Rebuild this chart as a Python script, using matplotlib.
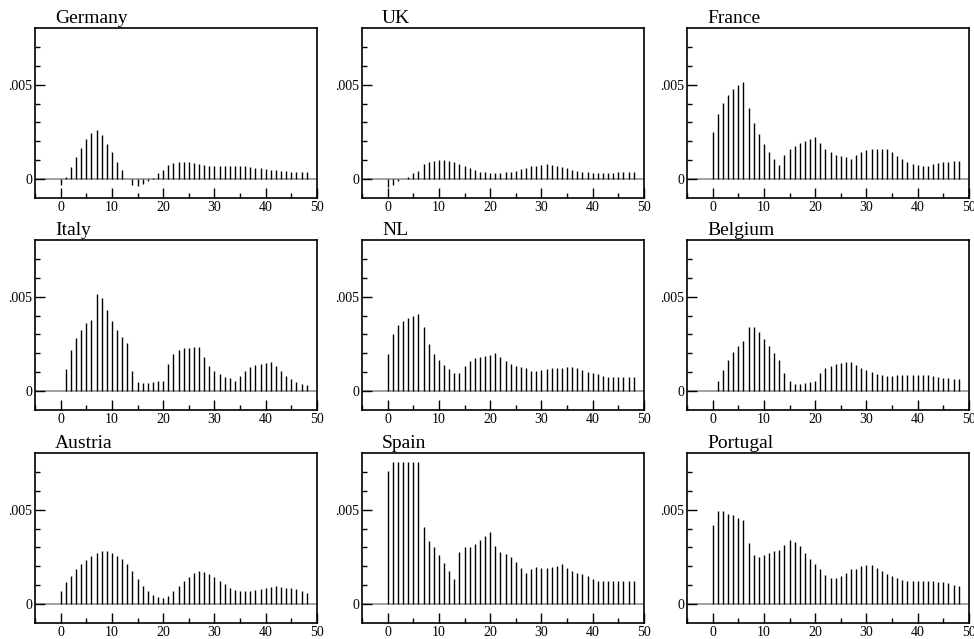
import numpy as np
import matplotlib
matplotlib.use("Agg")
import matplotlib.pyplot as plt
from matplotlib.ticker import MultipleLocator, FixedLocator, FuncFormatter

# impulse responses, lags 0..48
lags = np.arange(49)

germany = [-0.0003, 0.0001, 0.00065, 0.00118, 0.00165, 0.0021, 0.00243, 0.00259, 0.00232, 0.00188,
           0.00143, 0.00093, 0.00048, 0.0, -0.0003, -0.00035, -0.00025, -0.0001, 0.00005, 0.0003,
           0.0005, 0.00075, 0.00085, 0.0009, 0.0009, 0.0009, 0.00085, 0.0008, 0.00075, 0.0007,
           0.0007, 0.0007, 0.0007, 0.0007, 0.0007, 0.0007, 0.00068, 0.00065, 0.0006, 0.00057,
           0.00053, 0.0005, 0.00048, 0.00045, 0.00042, 0.0004, 0.0004, 0.0004, 0.0004]
uk = [-0.0004, -0.0003, -0.0001, 0.0, 0.0001, 0.0003, 0.00045, 0.0008, 0.00092, 0.00098,
      0.001, 0.001, 0.00098, 0.00092, 0.0008, 0.0007, 0.0006, 0.0005, 0.0004, 0.00035,
      0.0003, 0.0003, 0.00032, 0.00035, 0.0004, 0.00045, 0.00055, 0.0006, 0.0007, 0.00072,
      0.00075, 0.00078, 0.00075, 0.0007, 0.00065, 0.0006, 0.0005, 0.00045, 0.0004, 0.00035,
      0.0003, 0.0003, 0.0003, 0.0003, 0.00032, 0.00035, 0.00038, 0.0004, 0.0004]
france = [0.00247, 0.00345, 0.00405, 0.00445, 0.00475, 0.00497, 0.00514, 0.00378, 0.00295, 0.00237,
          0.00187, 0.00143, 0.00106, 0.00074, 0.00125, 0.00157, 0.00177, 0.0019, 0.002, 0.00212,
          0.00223, 0.00189, 0.00159, 0.00143, 0.0013, 0.00122, 0.00115, 0.00108, 0.00125, 0.00143,
          0.00154, 0.00159, 0.0016, 0.0016, 0.00159, 0.00141, 0.00124, 0.00106, 0.00092, 0.00081,
          0.00076, 0.0007, 0.00072, 0.0008, 0.00085, 0.00088, 0.00092, 0.00094, 0.00095]
italy = [-0.00002, 0.00117, 0.00217, 0.00281, 0.00326, 0.00358, 0.00377, 0.00514, 0.00491, 0.00431,
         0.00372, 0.00324, 0.00285, 0.00254, 0.00109, 0.0005, 0.00041, 0.00044, 0.0005, 0.00053,
         0.00055, 0.00142, 0.00198, 0.00219, 0.00226, 0.0023, 0.00231, 0.00235, 0.00183, 0.00133,
         0.00107, 0.00089, 0.00077, 0.00068, 0.00055, 0.00078, 0.00109, 0.00128, 0.00139, 0.00144,
         0.00148, 0.00153, 0.00133, 0.00107, 0.0008, 0.00062, 0.00048, 0.00037, 0.0003]
nl = [0.00198, 0.00304, 0.00349, 0.00372, 0.00388, 0.004, 0.00409, 0.00338, 0.00249, 0.00196,
      0.00164, 0.00139, 0.00117, 0.00098, 0.00096, 0.00135, 0.0016, 0.00173, 0.00181, 0.00187,
      0.00192, 0.00201, 0.0018, 0.0016, 0.00144, 0.00135, 0.00128, 0.00121, 0.00107, 0.00107,
      0.00112, 0.00117, 0.00121, 0.00121, 0.00123, 0.00128, 0.00126, 0.00121, 0.00112, 0.00103,
      0.00096, 0.00089, 0.0008, 0.00073, 0.00073, 0.00073, 0.00073, 0.00075, 0.00075]
belgium = [0.0, 0.00052, 0.00114, 0.00165, 0.00208, 0.00238, 0.00265, 0.00338, 0.0034, 0.00311,
           0.00274, 0.00237, 0.00201, 0.00165, 0.00094, 0.00055, 0.00039, 0.00037, 0.00041, 0.00046,
           0.00055, 0.00094, 0.00121, 0.00135, 0.00146, 0.00151, 0.00153, 0.00153, 0.00137, 0.00121,
           0.0011, 0.00101, 0.00093, 0.00087, 0.00082, 0.00082, 0.00084, 0.00085, 0.00085, 0.00085,
           0.00085, 0.00085, 0.00084, 0.00078, 0.00073, 0.00069, 0.00068, 0.00066, 0.00062]
austria = [0.00067, 0.00115, 0.00151, 0.00184, 0.00211, 0.00236, 0.00257, 0.00273, 0.00282, 0.0028,
           0.00271, 0.00257, 0.00238, 0.00215, 0.00176, 0.00133, 0.00096, 0.00069, 0.0005, 0.00037,
           0.0003, 0.00044, 0.00071, 0.00098, 0.00124, 0.00145, 0.00163, 0.00176, 0.00172, 0.00161,
           0.00144, 0.00124, 0.00105, 0.00087, 0.00074, 0.00067, 0.00067, 0.00071, 0.00076, 0.00082,
           0.00087, 0.00092, 0.00094, 0.00092, 0.00087, 0.00083, 0.00078, 0.00071, 0.00057]
spain = [0.00706, 0.00752, 0.0075, 0.00752, 0.00755, 0.00755, 0.00752, 0.00406, 0.00332, 0.003,
         0.00262, 0.00218, 0.00174, 0.00135, 0.00275, 0.00305, 0.00305, 0.00319, 0.00337, 0.00362,
         0.00383, 0.0031, 0.00278, 0.00266, 0.00248, 0.00223, 0.00193, 0.00165, 0.00186, 0.00195,
         0.00193, 0.0019, 0.00195, 0.00202, 0.00211, 0.00193, 0.00176, 0.00167, 0.0016, 0.00149,
         0.00135, 0.00122, 0.00122, 0.00124, 0.00124, 0.00121, 0.00121, 0.00121, 0.00122]
portugal = [0.00417, 0.00491, 0.00491, 0.00479, 0.0047, 0.00454, 0.00443, 0.00324, 0.00262, 0.00252,
            0.00262, 0.00273, 0.0028, 0.00287, 0.00314, 0.00337, 0.0033, 0.00307, 0.00273, 0.00241,
            0.00211, 0.00184, 0.00154, 0.00138, 0.00138, 0.00149, 0.00165, 0.00184, 0.00188, 0.00202,
            0.00207, 0.00206, 0.00191, 0.00176, 0.00161, 0.00151, 0.0014, 0.00129, 0.00124, 0.00122,
            0.00122, 0.00124, 0.00122, 0.00121, 0.00119, 0.00115, 0.0011, 0.00103, 0.00094]

countries = ["Germany", "UK", "France", "Italy", "NL", "Belgium", "Austria", "Spain", "Portugal"]
series = [germany, uk, france, italy, nl, belgium, austria, spain, portugal]

plt.rcParams["font.family"] = ["Liberation Serif", "DejaVu Serif"]

W, H = 974, 639
fig = plt.figure(figsize=(W / 100, H / 100), dpi=100)

col_left = [35, 362, 687]
row_top = [28, 240, 453]
ax_w, ax_h = 282, 170


def ylab(v, pos):
    if abs(v) < 1e-12:
        return "0"
    return ("%.3f" % v).lstrip("0")


for i, (name, vals) in enumerate(zip(countries, series)):
    r, c = divmod(i, 3)
    x0 = col_left[c] / W
    y0 = 1 - (row_top[r] + ax_h) / H
    ax = fig.add_axes([x0, y0, ax_w / W, ax_h / H])

    ax.axhline(0, color="#9a9a9a", lw=1.3, zorder=1)
    ax.vlines(lags, 0, vals, color="black", lw=1.0, zorder=2)

    ax.set_xlim(-5, 50)
    ax.set_ylim(-0.001, 0.008)

    ax.xaxis.set_major_locator(MultipleLocator(10))
    ax.xaxis.set_minor_locator(MultipleLocator(5))
    ax.yaxis.set_major_locator(FixedLocator([0, 0.005]))
    ax.yaxis.set_minor_locator(FixedLocator([0.001 * k for k in range(1, 8)]))
    ax.yaxis.set_major_formatter(FuncFormatter(ylab))

    ax.tick_params(which="both", direction="in", top=False, right=False,
                   labelsize=10, pad=2, width=1)
    ax.tick_params(which="major", length=7)
    ax.tick_params(which="minor", length=3.5)
    for s in ax.spines.values():
        s.set_linewidth(1.2)

    ax.text(20 / ax_w, 1.005, name, transform=ax.transAxes,
            fontsize=14, ha="left", va="bottom")

fig.savefig("out.png", dpi=100)
